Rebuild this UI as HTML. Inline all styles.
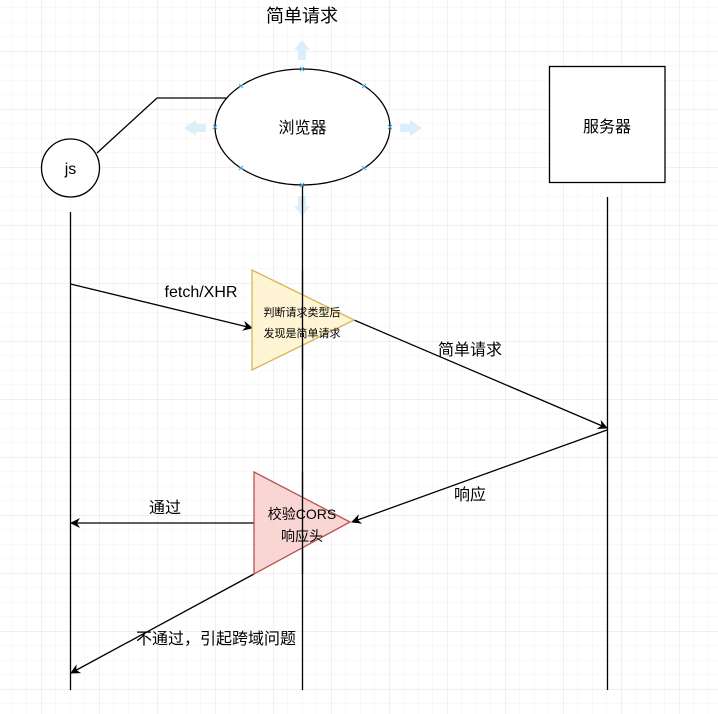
<!DOCTYPE html>
<html><head><meta charset="utf-8"><style>
html,body{margin:0;padding:0;background:#fff;}
svg{display:block;font-family:"Liberation Sans","Noto Sans CJK SC",sans-serif;}
</style></head><body>
<svg width="718" height="714" viewBox="0 0 718 714" xmlns="http://www.w3.org/2000/svg">
<defs>
<pattern id="minor" x="12" y="7.5" width="14.5" height="14.5" patternUnits="userSpaceOnUse">
<path d="M0 0H14.5M0 0V14.5" stroke="#f0f0f0" stroke-width="1" fill="none"/>
</pattern>
<pattern id="major" x="41" y="51" width="58" height="58" patternUnits="userSpaceOnUse">
<path d="M0 0H58M0 0V58" stroke="#e0e0e0" stroke-width="1" fill="none"/>
</pattern>
<marker id="ar" viewBox="0 0 10 10" refX="9" refY="5" markerWidth="10" markerHeight="10" markerUnits="userSpaceOnUse" orient="auto">
<path d="M0 0L10 5L0 10L3 5Z" fill="#000"/>
</marker>
</defs>
<rect width="718" height="714" fill="url(#minor)"/>
<rect width="718" height="714" fill="url(#major)"/>

<text x="302" y="22" font-size="18" text-anchor="middle" fill="#000">简单请求</text>

<!-- hover arrows -->
<g fill="#dceefa">
<path d="M298 60V50H294L302 40L310 50H306V60Z"/>
<path d="M298 196V206H294L302 216L310 206H306V196Z"/>
<path d="M206 124H196V120L184 128L196 136V132H206Z"/>
<path d="M400 124H410V120L422 128L410 136V132H400Z"/>
</g>

<!-- lifelines -->
<g stroke="#000" stroke-width="1.3">
<line x1="70.5" y1="212" x2="70.5" y2="690"/>
<line x1="302.5" y1="186" x2="302.5" y2="690"/>
<line x1="607.5" y1="197" x2="607.5" y2="690"/>
</g>

<polyline points="97,153 157,98 229,98" fill="none" stroke="#000" stroke-width="1.3"/>

<ellipse cx="302.5" cy="127" rx="87.5" ry="58" fill="#fff" stroke="#000" stroke-width="1.3"/>
<text x="302.5" y="133" font-size="16" text-anchor="middle">浏览器</text>
<g stroke="#3aa7e0" stroke-width="1">
<path d="M300 67l4 4M304 67l-4 4M300 183l4 4M304 183l-4 4M213 125l4 4M217 125l-4 4M388 125l4 4M392 125l-4 4M239 84l4 4M243 84l-4 4M362 84l4 4M366 84l-4 4M239 166l4 4M243 166l-4 4M362 166l4 4M366 166l-4 4"/>
</g>

<circle cx="70.5" cy="168" r="29" fill="#fff" stroke="#000" stroke-width="1.3"/>
<text x="70.5" y="174" font-size="16" text-anchor="middle">js</text>

<rect x="549.5" y="66.5" width="115.5" height="116" fill="#fff" stroke="#000" stroke-width="1.3"/>
<text x="607" y="132" font-size="16" text-anchor="middle">服务器</text>

<!-- arrows -->
<g stroke="#000" stroke-width="1.3" fill="none">
<line x1="70.5" y1="284" x2="252" y2="328" marker-end="url(#ar)"/>
<line x1="354" y1="320" x2="607" y2="428" marker-end="url(#ar)"/>
<line x1="607" y1="430" x2="352" y2="522" marker-end="url(#ar)"/>
<line x1="254" y1="523" x2="71" y2="523" marker-end="url(#ar)"/>
<line x1="254" y1="574" x2="71" y2="673" marker-end="url(#ar)"/>
</g>

<!-- triangles -->
<path d="M252 270L354 320L252 370Z" fill="#fff2cc" fill-opacity="0.85" stroke="#d6b656" stroke-width="1.3"/>
<line x1="302.5" y1="270" x2="302.5" y2="370" stroke="#000" stroke-width="1.3"/>
<text x="302" y="316" font-size="11" text-anchor="middle">判断请求类型后</text>
<text x="302" y="337" font-size="11" text-anchor="middle">发现是简单请求</text>

<path d="M254 472L350 522L254 574Z" fill="#f8cecc" fill-opacity="0.85" stroke="#b85450" stroke-width="1.3"/>
<line x1="302.5" y1="472" x2="302.5" y2="574" stroke="#000" stroke-width="1.3"/>
<text x="302" y="519" font-size="14" text-anchor="middle">校验CORS</text>
<text x="302" y="541" font-size="14" text-anchor="middle">响应头</text>

<g font-size="16" text-anchor="middle">
<text x="201" y="297">fetch/XHR</text>
<text x="470" y="355">简单请求</text>
<text x="470" y="500">响应</text>
<text x="165" y="513">通过</text>
<text x="216" y="644">不通过，引起跨域问题</text>
</g>
</svg>
</body></html>
